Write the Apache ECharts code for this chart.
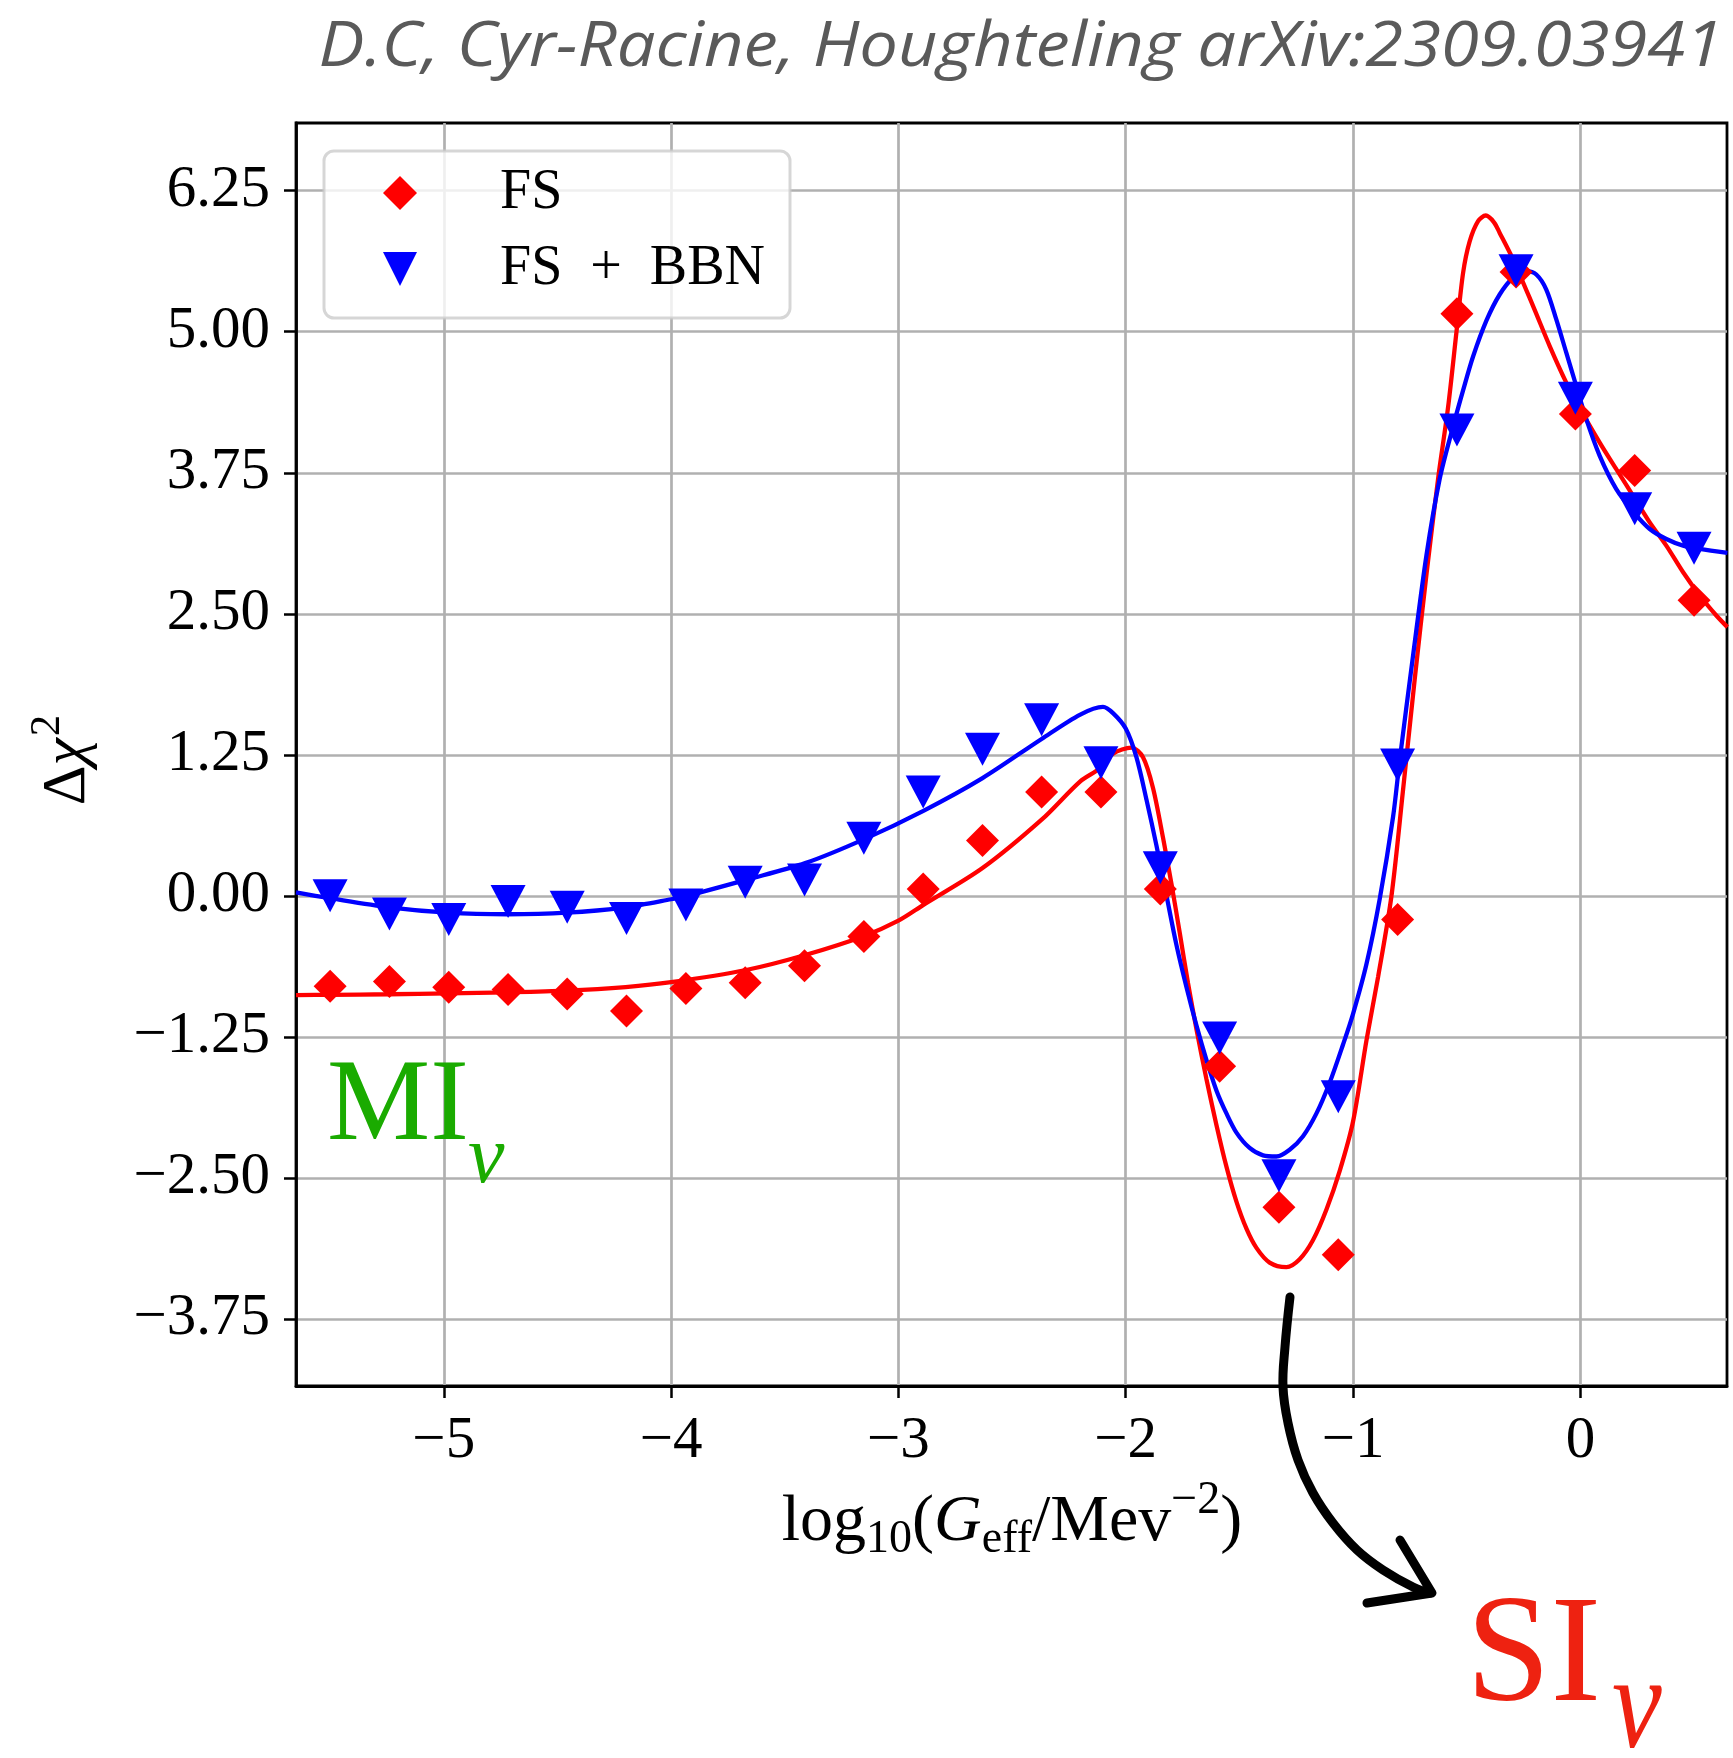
<!DOCTYPE html>
<html><head><meta charset="utf-8">
<script src="https://cdn.jsdelivr.net/npm/echarts@6/dist/echarts.min.js"></script>
<style>html,body{margin:0;padding:0;background:#fff;} #c{width:1733px;height:1758px;}</style>
</head><body><div id="c"></div>
<script>
// ---- data ----
const logG = [-5.5, -5.239, -4.978, -4.717, -4.457, -4.196, -3.935, -3.674, -3.413, -3.152, -2.891, -2.630,
              -2.370, -2.109, -1.848, -1.587, -1.326, -1.065, -0.804, -0.543, -0.283, -0.022, 0.239, 0.5];
const fsChi2 = [-0.80, -0.76, -0.81, -0.83, -0.87, -1.02, -0.82, -0.77, -0.62, -0.36, 0.06, 0.49,
                0.92, 0.92, 0.06, -1.51, -2.76, -3.18, -0.21, 5.16, 5.53, 4.27, 3.77, 2.62];
const fsBbnChi2 = [0.00, -0.16, -0.21, -0.05, -0.10, -0.20, -0.08, 0.12, 0.14, 0.51, 0.92, 1.30,
                   1.56, 1.18, 0.25, -1.26, -2.48, -1.78, 1.16, 4.13, 5.54, 4.41, 3.43, 3.08];

const fsFitX = [-5.65, -5.5, -5.24, -4.98, -4.72, -4.46, -4.2, -4.0, -3.67, -3.41, -3.15, -3.0, -2.89, -2.63, -2.37, -2.2,
  -2.114, -2.056, -1.975, -1.924, -1.88, -1.836, -1.799, -1.762, -1.726, -1.689, -1.645, -1.601, -1.557, -1.513,
  -1.469, -1.425, -1.367, -1.293, -1.235, -1.176, -1.117, -1.059, -1.0, -0.941, -0.89, -0.831, -0.78, -0.729,
  -0.677, -0.626, -0.582, -0.545, -0.516, -0.487, -0.45, -0.416, -0.38, -0.355, -0.296, -0.208, -0.135, -0.062,
  0.0, 0.085, 0.158, 0.232, 0.305, 0.378, 0.452, 0.525, 0.598, 0.647];
const fsFitY = [-0.879, -0.877, -0.872, -0.864, -0.855, -0.84, -0.808, -0.765, -0.657, -0.524, -0.355, -0.22, -0.08, 0.246, 0.675, 1.015,
  1.13, 1.26, 1.314, 1.229, 0.957, 0.516, 0.109, -0.333, -0.774, -1.181, -1.623, -2.03, -2.40, -2.71,
  -2.95, -3.12, -3.25, -3.29, -3.22, -3.05, -2.78, -2.44, -2.0, -1.28, -0.72, 0.0, 0.94, 1.915,
  2.85, 3.695, 4.33, 5.0, 5.52, 5.80, 5.98, 6.03, 5.97, 5.876, 5.64, 5.227, 4.873, 4.549,
  4.313, 4.018, 3.782, 3.546, 3.31, 3.104, 2.868, 2.662, 2.485, 2.382];

const bbnFitX = [-5.65, -5.5, -5.24, -4.98, -4.72, -4.46, -4.2, -4.0, -3.93, -3.67, -3.41, -3.15, -2.89, -2.63, -2.37, -2.2,
  -2.10, -2.056, -2.0, -1.953, -1.909, -1.865, -1.821, -1.777, -1.733, -1.689, -1.645, -1.601, -1.557, -1.513,
  -1.455, -1.396, -1.337, -1.279, -1.22, -1.161, -1.103, -1.044, -1.0, -0.941, -0.883, -0.824, -0.795, -0.736,
  -0.677, -0.619, -0.56, -0.516, -0.472, -0.413, -0.355, -0.296, -0.238, -0.194, -0.15, -0.106, -0.062, -0.018,
  0.026, 0.085, 0.158, 0.239, 0.305, 0.378, 0.452, 0.525, 0.647];
const bbnFitY = [0.03, -0.021, -0.101, -0.149, -0.163, -0.149, -0.101, -0.03, 0.0, 0.142, 0.29, 0.503, 0.754, 1.044, 1.391, 1.607,
  1.675, 1.62, 1.483, 1.229, 0.855, 0.448, 0.007, -0.434, -0.808, -1.147, -1.453, -1.724, -1.928, -2.098,
  -2.234, -2.30, -2.31, -2.25, -2.13, -1.928, -1.656, -1.317, -1.045, -0.604, -0.03, 0.7, 1.2, 2.13,
  3.02, 3.695, 4.16, 4.48, 4.78, 5.10, 5.33, 5.48, 5.537, 5.507, 5.374, 5.109, 4.814, 4.519,
  4.225, 3.9, 3.606, 3.39, 3.252, 3.163, 3.104, 3.075, 3.04];

const xTickValues = [-5, -4, -3, -2, -1, 0];
const yTickValues = [-3.75, -2.5, -1.25, 0, 1.25, 2.5, 3.75, 5, 6.25];
const seriesNames = ['FS', 'FS + BBN'];

// ---- chart ----
const SERIF = '"Liberation Serif", "Times New Roman", serif';
const minus = '\u2212';
const chart = echarts.init(document.getElementById('c'), null, {renderer: 'canvas', width: 1733, height: 1758});

const pairs = (xs, ys) => xs.map((x, i) => [x, ys[i]]);

const option = {
  animation: false,
  backgroundColor: '#ffffff',
  grid: {
    left: 296, top: 123, width: 1431, height: 1263,
    show: true, borderColor: '#000', borderWidth: 2.8, backgroundColor: 'transparent',
    containLabel: false, outerBoundsMode: 'none'
  },
  xAxis: {
    type: 'value', min: -5.65, max: 0.645,
    axisLine: {show: true, onZero: false, lineStyle: {color: '#000', width: 2.8}},
    axisTick: {show: true, inside: false, length: 12, customValues: xTickValues, lineStyle: {color: '#000', width: 2.5}},
    axisLabel: {
      customValues: xTickValues, margin: 26, color: '#000', fontFamily: SERIF, fontSize: 59,
      formatter: v => (v < -1e-9 ? minus : '') + Math.abs(v).toFixed(0)
    },
    splitLine: {show: true, lineStyle: {color: '#b0b0b0', width: 2.7}}
  },
  yAxis: {
    type: 'value', min: -4.344, max: 6.85,
    axisLine: {show: true, onZero: false, lineStyle: {color: '#000', width: 2.8}},
    axisTick: {show: true, inside: false, length: 12, customValues: yTickValues, lineStyle: {color: '#000', width: 2.5}},
    axisLabel: {
      customValues: yTickValues, margin: 26, color: '#000', fontFamily: SERIF, fontSize: 59,
      formatter: v => (v < -1e-9 ? minus : '') + Math.abs(v).toFixed(2)
    },
    splitLine: {show: true, lineStyle: {color: '#b0b0b0', width: 2.7}}
  },
  legend: {
    data: seriesNames,
    orient: 'vertical', left: 324, top: 151,
    padding: [14, 20, 21, 59], itemGap: 20, itemWidth: 34, itemHeight: 34,
    selectedMode: false,
    backgroundColor: 'rgba(255,255,255,0.8)', borderColor: 'rgba(204,204,204,0.8)', borderWidth: 3, borderRadius: 10,
    formatter: n => n.replace(/ /g, '\u2002'),
    itemStyle: {opacity: 1},
    textStyle: {fontFamily: SERIF, fontSize: 56, color: '#000', lineHeight: 56, width: 270, padding: [0, 0, 0, 78]}
  },
  series: [
    {type: 'line', name: 'FS fit', data: pairs(fsFitX, fsFitY), smooth: 0.3, symbol: 'none', showSymbol: false,
     lineStyle: {color: '#ff0000', width: 4.3}, z: 2, silent: true, clip: true},
    {type: 'line', name: 'FS + BBN fit', data: pairs(bbnFitX, bbnFitY), smooth: 0.3, symbol: 'none', showSymbol: false,
     lineStyle: {color: '#0000ff', width: 4.3}, z: 3, silent: true, clip: true},
    {type: 'scatter', name: seriesNames[0], data: pairs(logG, fsChi2), symbol: 'diamond', symbolSize: 33,
     itemStyle: {color: '#ff0000', opacity: 1}, z: 4},
    {type: 'scatter', name: seriesNames[1], data: pairs(logG, fsBbnChi2), symbol: 'path://M0,0L2,0L1,2Z', symbolSize: [35, 33],
     itemStyle: {color: '#0000ff', opacity: 1}, z: 5}
  ],
  graphic: [
    // title
    {type: 'text', z: 100, x: 1723, y: 48, scaleX: 1.09, style: {text: 'D.C, Cyr-Racine, Houghteling arXiv:2309.03941', x: 0, y: 0,
      align: 'right', verticalAlign: 'middle', font: 'italic 63px "Open Sans"', fill: '#5a5a5a'}},
    // x axis title
    {type: 'text', z: 100, style: {
      text: '{r|log}{s|10}{r|(}{i|G}{s|eff}{r|/Mev}{p|' + minus + '2}{r|)}',
      x: 1012, y: 1523, align: 'center', verticalAlign: 'middle',
      rich: {
        r: {fontFamily: SERIF, fontSize: 66, lineHeight: 90, fill: '#000'},
        i: {fontFamily: SERIF, fontStyle: 'italic', fontSize: 66, lineHeight: 90, fill: '#000'},
        s: {fontFamily: SERIF, fontSize: 46, verticalAlign: 'bottom', padding: [0, 0, 5, 0], fill: '#000'},
        p: {fontFamily: SERIF, fontSize: 46, verticalAlign: 'top', padding: [0, 0, 0, 0], fill: '#000'}
      }}},
    // y axis title
    {type: 'text', z: 100, x: 68, y: 760, rotation: Math.PI / 2, style: {
      text: '{r|\u0394}{i|\u03c7}{p|2}', x: 0, y: 0, align: 'center', verticalAlign: 'middle',
      rich: {
        r: {fontFamily: SERIF, fontSize: 62, lineHeight: 84, fill: '#000'},
        i: {fontFamily: SERIF, fontStyle: 'italic', fontSize: 62, lineHeight: 84, fill: '#000'},
        p: {fontFamily: SERIF, fontSize: 43, verticalAlign: 'top', padding: [0, 0, 0, 2], fill: '#000'}
      }}},
    // MI_nu
    {type: 'text', z: 100, style: {text: 'MI', x: 327, y: 1109, align: 'left', verticalAlign: 'middle',
      font: '116px "Liberation Serif"', fill: '#1aab00'}},
    {type: 'text', z: 100, style: {text: '\u03bd', x: 468, y: 1160, align: 'left', verticalAlign: 'middle',
      font: 'italic 82px "Liberation Serif"', fill: '#1aab00'}},
    // SI_nu
    {type: 'text', z: 100, style: {text: 'SI', x: 1466, y: 1660, align: 'left', verticalAlign: 'middle',
      font: '152px "Liberation Serif"', fill: '#ee2211'}},
    {type: 'text', z: 100, x: 1612, y: 1712, scaleY: 1.2, style: {text: '\u03bd', x: 0, y: 0, align: 'left', verticalAlign: 'middle',
      font: 'italic 112px "Liberation Serif"', fill: '#ee2211'}},
    // hand drawn arrow
    {type: 'polyline', z: 100, shape: {smooth: 0.4, points: [[1290, 1297], [1285, 1347], [1283, 1387], [1288, 1423], [1298, 1460],
      [1313, 1493], [1333, 1523], [1357, 1550], [1383, 1570], [1413, 1587], [1430, 1593]]},
      style: {stroke: '#000', lineWidth: 9, fill: null, lineCap: 'round', lineJoin: 'round'}},
    {type: 'polyline', z: 100, shape: {points: [[1400, 1540], [1432, 1593], [1367, 1603]]},
      style: {stroke: '#000', lineWidth: 9, fill: null, lineCap: 'round', lineJoin: 'round'}}
  ]
};
chart.setOption(option);
</script></body></html>
